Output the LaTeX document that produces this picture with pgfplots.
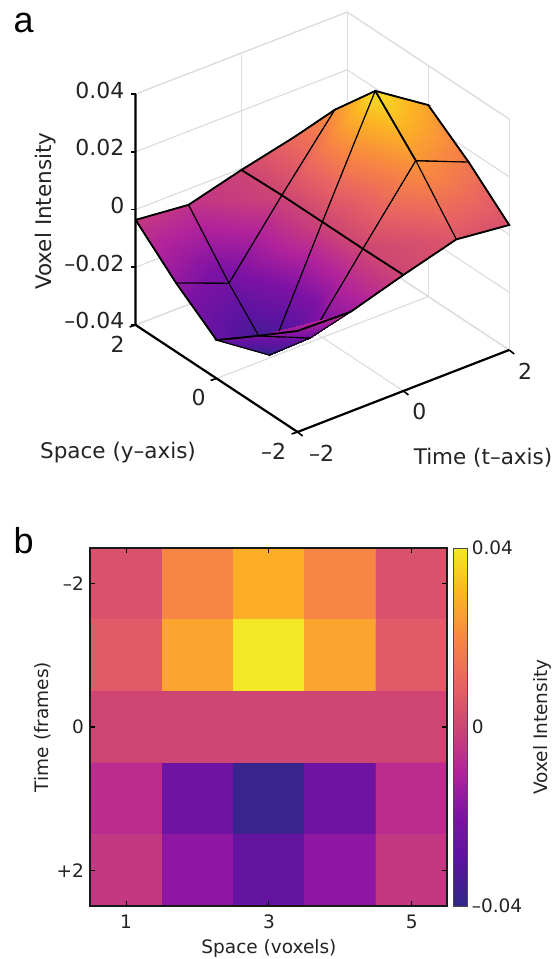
\documentclass[border=0pt]{standalone}
\usepackage{fontspec}
\usepackage{pgfplots}
\pgfplotsset{compat=1.18}
\usepackage{pgfplotstable}
\setmainfont{DejaVu Sans}
\newfontfamily\panelfont{Liberation Sans}
\newcommand{\fa}{\fontsize{21.5}{24}\selectfont}
\newcommand{\fat}{\fontsize{22}{24}\selectfont}
\newcommand{\fb}{\fontsize{18.5}{22}\selectfont}
\definecolor{txt}{RGB}{35,35,35}
\pgfplotstableread{
t y z
-2 -2 -0.005
-2 -1 -0.016
-2 0 -0.0267
-2 1 -0.0162
-2 2 -0.0036
-1 -2 -0.0055
-1 -1 -0.0238
-1 0 -0.039
-1 1 -0.0234
-1 2 -0.0055
0 -2 0.0002
0 -1 0
0 0 0
0 1 0
0 2 -0.0005
1 -2 0.0054
1 -1 0.0234
1 0 0.0383
1 1 0.0225
1 2 0.0038
2 -2 0.0033
2 -1 0.0158
2 0 0.0263
2 1 0.016
2 2 0.004
}\surfdata
\pgfplotstableread{
x y C
1 -2 0.004
2 -2 0.0195
3 -2 0.029
4 -2 0.0195
5 -2 0.004
1 -1 0.007
2 -1 0.0265
3 -1 0.04
4 -1 0.0265
5 -1 0.007
1 0 0
2 0 0
3 0 0
4 0 0
5 0 0
1 1 -0.007
2 1 -0.024
3 1 -0.038
4 1 -0.024
5 1 -0.007
1 2 -0.004
2 2 -0.017
3 2 -0.027
4 2 -0.017
5 2 -0.004
}\heatdata
\pgfplotsset{colormap={vox}{rgb255=(48,40,135) rgb255=(90,20,160) rgb255=(125,18,165) rgb255=(178,35,155) rgb255=(205,70,115) rgb255=(232,100,98) rgb255=(248,135,65) rgb255=(252,180,35) rgb255=(243,232,38)}}
\begin{document}
\begin{tikzpicture}
\useasboundingbox (0pt,0pt) rectangle (556pt,-959pt);
\begin{axis}[
  at={(322.4pt,-222pt)}, anchor=origin,
  disabledatascaling,
  x={(52.9pt,20.5pt)}, y={(-40.5pt,26.75pt)}, z={(0pt,2887pt)},
  xmin=-2,xmax=2,ymin=-2,ymax=2,zmin=-0.04,zmax=0.04,
  clip=false,
  colormap name=vox,
  point meta min=-0.04, point meta max=0.04,
  xtick={-2,0,2}, ytick={-2,0,2}, ztick={-0.04,-0.02,0,0.02,0.04},
  xticklabels={\hspace*{16pt}–2,0,2}, yticklabels={–2\hspace*{12pt},0,2},
  zticklabels={–0.04,–0.02,0,0.02,0.04},
  scaled z ticks=false,
  xtick pos=left, ytick pos=left, ztick pos=left,
  major x tick style={draw=none},
  major y tick style={draw=none},
  major z tick style={draw=none},
  grid=major,
  grid style={draw=black!13,line width=1.2pt},
  axis line style={draw=black!13,line width=1.2pt},
  major tick length=6pt,
  tick label style={font=\fat,text=txt,inner sep=0pt},
  xticklabel style={anchor=center,xshift=16pt,yshift=-21pt},
  yticklabel style={anchor=center,xshift=-18pt,yshift=-19pt},
  zticklabel style={anchor=east,xshift=-11pt,yshift=4pt},
]
\addplot3[surf,shader=faceted interp,z buffer=sort,mesh/cols=5,faceted color=black,line width=1.1pt,point meta=z]
  table[x=t,y=y,z=z]{\surfdata};
\addplot3[black,line width=1.8pt,no marks] coordinates {(0,2,-0.0005)(0,1,0)(0,0,0)(0,-1,0)(0,-2,0.0002)};
\addplot3[black,line width=1.8pt,no marks] coordinates {(-2,2,-0.0036)(-1,2,-0.0055)(0,2,-0.0005)(1,2,0.0038)(1,1,0.0225)(1,0,0.0383)(2,0,0.0263)(2,-1,0.0158)(2,-2,0.0033)(1,-2,0.0054)(0,-2,0.0002)(-1,-2,-0.0055)(-2,-2,-0.005)(-2,-1,-0.016)(-2,0,-0.0267)(-2,1,-0.0162)(-2,2,-0.0036)};
\addplot3[black,line width=1.8pt,no marks] coordinates {(1,0,0.0383)(1,-1,0.0234)};
\draw[black,line width=2.2pt] (axis cs:-2,2,0.04)--(axis cs:-2,2,-0.04)--(axis cs:-2,-2,-0.04)--(axis cs:2,-2,-0.04);
\foreach \v in {-0.04,-0.02,0,0.02,0.04}{
  \edef\tmp{\noexpand\draw[black,line width=1.6pt] (axis cs:-2,2,\v)--++(-5pt,0pt);}\tmp
}
\foreach \v in {-2,0,2}{
  \edef\tmp{\noexpand\draw[black,line width=1.6pt] (axis cs:\v,-2,-0.04)--++(5pt,-4pt);}\tmp
  \edef\tmp{\noexpand\draw[black,line width=1.6pt] (axis cs:-2,\v,-0.04)--++(-6pt,-2pt);}\tmp
}
\end{axis}
\node[font=\fa,text=txt,rotate=90] at (46pt,-211pt) {Voxel Intensity};
\node[font=\fa,text=txt] at (118pt,-452.7pt) {Space (y–axis)};
\node[font=\fa,text=txt] at (483pt,-458pt) {Time (t–axis)};
\node[font=\panelfont\fontsize{36}{36}\selectfont,anchor=base west,inner sep=0pt] at (13.5pt,-32pt) {a};
\node[font=\panelfont\fontsize{36}{36}\selectfont,anchor=base west,inner sep=0pt] at (13.5pt,-553pt) {b};
\begin{axis}[
  at={(90.4pt,-906pt)}, anchor=south west,
  scale only axis, width=357pt, height=358pt,
  xmin=0.5,xmax=5.5,ymin=-2.5,ymax=2.5,y dir=reverse,
  colormap name=vox,
  point meta min=-0.04, point meta max=0.04,
  xtick={1,3,5}, ytick={-2,0,2},
  yticklabels={–2,0,+2},
  tick align=inside, major tick length=5pt,
  tick style={draw=black,line width=1.2pt},
  axis line style={draw=black!90,line width=2pt},
  tick label style={font=\fb,text=txt},
  xticklabel style={yshift=-5pt},
  yticklabel style={xshift=-3pt},
  /pgf/number format/assume math mode=true,
  xlabel={Space (voxels)}, ylabel={Time (frames)},
  label style={font=\fb,text=txt},
  xlabel style={at={(0.5,0)},anchor=center,yshift=-42pt},
  ylabel style={at={(0,0.5)},anchor=center,xshift=0pt,yshift=48pt},
  axis on top,
  colorbar,
  colorbar style={
    at={(1.018,0)},anchor=south west,
    width=13.4pt,height=358pt,
    ymin=-0.04,ymax=0.04,y dir=normal,
    scaled y ticks=false,
    ytick={-0.04,0,0.04},yticklabels={–0.04,0,0.04},
    ytick pos=right,
    major tick length=0pt,
    axis line style={draw=black!70,line width=1pt},
    ylabel={Voxel Intensity},
    ylabel style={font=\fb,text=txt,at={(1,0.5)},anchor=center,rotate=0,xshift=0pt,yshift=-75pt},
    yticklabel style={font=\fb,text=txt,xshift=1pt},
  },
]
\addplot[matrix plot*,mesh/cols=5,point meta=explicit] table[x=x,y=y,meta=C]{\heatdata};
\end{axis}
\end{tikzpicture}
\end{document}
